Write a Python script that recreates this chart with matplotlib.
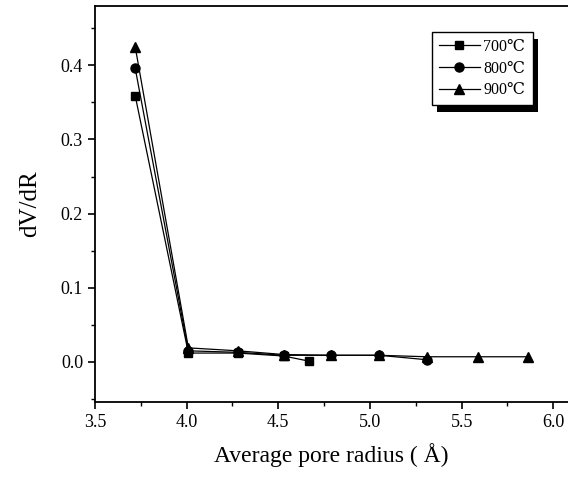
import matplotlib
matplotlib.use("Agg")
import matplotlib.pyplot as plt
import matplotlib.patheffects as pe
from matplotlib.ticker import MultipleLocator

plt.rcParams['font.family'] = ['Liberation Serif', 'DejaVu Serif']

# pore radius (A) and dV/dR for each temperature
r700 = [3.72, 4.01, 4.28, 4.53, 4.67]
v700 = [0.359, 0.012, 0.012, 0.008, 0.001]

r800 = [3.72, 4.01, 4.28, 4.53, 4.79, 5.05, 5.31]
v800 = [0.396, 0.015, 0.013, 0.009, 0.009, 0.009, 0.003]

r900 = [3.72, 4.01, 4.28, 4.53, 4.79, 5.05, 5.31, 5.59, 5.86]
v900 = [0.425, 0.019, 0.015, 0.010, 0.009, 0.009, 0.007, 0.007, 0.007]

labels = ["700\u2103", "800\u2103", "900\u2103"]

fig = plt.figure(figsize=(5.68, 4.80), dpi=100)
ax = fig.add_axes([0.167, 0.1625, 0.833, 0.825])

ax.plot(r700, v700, "-s", color="k", lw=0.9, ms=6, label=labels[0])
ax.plot(r800, v800, "-o", color="k", lw=0.9, ms=6.5, label=labels[1])
ax.plot(r900, v900, "-^", color="k", lw=0.9, ms=7, label=labels[2])

ax.set_xlim(3.5, 6.08)
ax.set_ylim(-0.054, 0.48)
ax.xaxis.set_major_locator(MultipleLocator(0.5))
ax.xaxis.set_minor_locator(MultipleLocator(0.25))
ax.yaxis.set_major_locator(MultipleLocator(0.1))
ax.yaxis.set_minor_locator(MultipleLocator(0.05))
ax.tick_params(which="both", direction="out", top=False, right=False, labelsize=13)
ax.tick_params(which="major", length=5, width=1.2)
ax.tick_params(which="minor", length=3, width=1.0)
for s in ax.spines.values():
    s.set_linewidth(1.3)
ax.spines["right"].set_visible(False)

ax.set_xlabel("Average pore radius ( \u00c5)", fontsize=17, labelpad=9)
ax.set_ylabel("dV/dR", fontsize=18, labelpad=14)

leg = ax.legend(loc="upper right", bbox_to_anchor=(0.925, 0.935), fancybox=False,
                edgecolor="k", fontsize=11.5,
                handlelength=2.6, borderpad=0.45, labelspacing=0.35,
                handletextpad=0.2, framealpha=1, borderaxespad=0)
leg.get_frame().set_linewidth(1.0)
# offset black drop shadow like the original
leg.get_frame().set_path_effects([
    pe.SimplePatchShadow(offset=(4, -5), shadow_rgbFace="k", alpha=1),
    pe.Normal()])

fig.savefig("out.png", dpi=100)
